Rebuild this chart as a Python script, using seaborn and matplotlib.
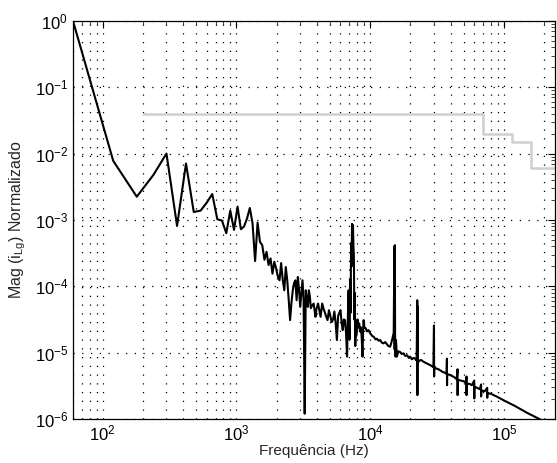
import numpy as np
import pandas as pd
import seaborn as sns
import matplotlib.pyplot as plt
from matplotlib.ticker import LogLocator, NullFormatter

# spectrum of i_Lg (frequency in Hz, log10 of magnitude)
freq_hz = [60, 120, 180, 240, 300, 360, 420, 480, 540, 600, 660, 720, 780, 840, 900,
           960, 1020, 1080, 1140, 1200, 1260, 1320, 1380, 1440, 1500, 1560, 1620, 1680,
           1740, 1800, 1860, 1920, 1980, 2040, 2100, 2160, 2220, 2280, 2340, 2400, 2460,
           2520, 2580, 2640, 2700, 2760, 2820, 2880, 2940, 3000, 3060, 3120, 3180, 3240,
           3300, 3360, 3420, 3480, 3540, 3600, 3660, 3780, 3900, 3960, 4080, 4200, 4260,
           4380, 4500, 4560, 4680, 4800, 4920, 5040, 5160, 5280, 5400, 5520, 5640, 5760,
           5880, 6000, 6120, 6240, 6360, 6480, 6600, 6720, 6840, 6900, 6960, 7020, 7080,
           7140, 7200, 7260, 7320, 7380, 7440, 7500, 7560, 7620, 7680, 7740, 7800, 7860,
           7920, 8040, 8160, 8280, 8400, 8520, 8640, 8760, 8880, 8940, 9060, 9240, 9480,
           9720, 10020, 10380, 10620, 10980, 11220, 11580, 11880, 12240, 12600, 12960,
           13320, 13680, 14100, 14400, 14700, 15000, 15180, 15240, 15300, 15360, 15480,
           15600, 15840, 16200, 16740, 17220, 17760, 18300, 18900, 19500, 19920, 20520,
           21120, 21720, 22260, 22500, 22560, 22620, 22740, 23400, 24000, 25200, 26400,
           27600, 28800, 29700, 30000, 30060, 30180, 31200, 32400, 33600, 34800, 36000,
           37200, 37500, 37560, 37680, 39000, 40800, 42600, 44400, 45000, 45060, 45180,
           47400, 49800, 52200, 52500, 52560, 52680, 55200, 57600, 60000, 60060, 60180,
           63000, 66000, 67500, 67560, 67680, 72000, 75000, 75060, 75180, 80000, 90000,
           100000, 120000, 150000, 180000, 210000, 240000]
mag_log = [0.0, -2.11, -2.65, -2.32, -2.00, -3.09, -2.15, -2.88, -2.86, -2.74, -2.61, -2.99,
           -3.01, -3.20, -2.86, -3.15, -2.80, -3.14, -3.10, -2.98, -2.82, -3.05, -3.62, -3.04,
           -3.33, -3.38, -3.60, -3.48, -3.68, -3.58, -3.81, -3.63, -3.73, -3.85, -3.91, -3.65,
           -3.90, -4.06, -3.71, -3.91, -4.20, -4.51, -4.25, -4.06, -3.95, -3.91, -4.21, -3.86,
           -4.05, -4.31, -4.10, -3.91, -4.20, -5.92, -4.06, -4.20, -4.31, -4.06, -4.15, -4.33,
           -4.30, -4.26, -4.46, -4.35, -4.26, -4.40, -4.46, -4.26, -4.35, -4.38, -4.45, -4.51,
           -4.36, -4.45, -4.54, -4.50, -4.38, -4.55, -4.81, -4.45, -4.40, -4.36, -4.55, -4.66,
           -4.50, -4.51, -4.70, -5.06, -4.30, -4.06, -4.60, -4.80, -3.90, -4.40, -3.35, -3.70,
           -3.06, -3.60, -3.08, -3.40, -3.55, -4.50, -4.10, -4.90, -4.60, -4.75, -4.71, -4.50,
           -4.62, -4.56, -4.68, -4.62, -4.76, -5.06, -4.60, -4.51, -4.62, -4.63, -4.68, -4.66,
           -4.71, -4.75, -4.76, -4.80, -4.79, -4.82, -4.81, -4.85, -4.86, -4.84, -4.87, -4.90,
           -4.91, -4.85, -4.78, -4.70, -3.40, -4.95, -3.38, -4.80, -5.06, -4.81, -5.06, -4.98,
           -4.99, -5.02, -5.01, -5.05, -5.04, -5.08, -5.06, -5.10, -5.08, -5.09, -5.12, -4.21,
           -5.64, -4.30, -5.15, -5.12, -5.11, -5.14, -5.16, -5.18, -5.20, -5.22, -4.59, -5.36,
           -5.21, -5.24, -5.25, -5.27, -5.29, -5.30, -5.32, -5.09, -5.49, -5.33, -5.33, -5.35,
           -5.37, -5.40, -5.25, -5.64, -5.41, -5.42, -5.43, -5.45, -5.36, -5.64, -5.47, -5.47,
           -5.49, -5.42, -5.69, -5.51, -5.53, -5.55, -5.48, -5.66, -5.57, -5.58, -5.53, -5.68,
           -5.61, -5.62, -5.67, -5.72, -5.80, -5.91, -5.99, -6.06, -6.12]

# harmonic limit (step curve)
limit_freq = [200, 70000, 114000, 160000, 240000]
limit_mag = [0.04, 0.02, 0.015, 0.006, 0.006]

x_ticks = [1e2, 1e3, 1e4, 1e5]
y_ticks = [1e-6, 1e-5, 1e-4, 1e-3, 1e-2, 1e-1, 1e0]

spec = pd.DataFrame({"f": freq_hz, "mag": 10.0 ** np.array(mag_log)})
lim = pd.DataFrame({"f": limit_freq, "mag": limit_mag})

sns.set_theme(style="white", rc={
    "xtick.direction": "in", "ytick.direction": "in",
    "xtick.top": True, "ytick.right": True,
    "xtick.minor.visible": True, "ytick.minor.visible": True,
    "axes.edgecolor": "black", "axes.linewidth": 0.9,
    "mathtext.fontset": "custom", "mathtext.rm": "Liberation Sans",
})
plt.rcParams["font.family"] = ["Liberation Sans", "DejaVu Sans"]
plt.rcParams["font.size"] = 11

fig, ax = plt.subplots(figsize=(5.57, 4.63), dpi=100)
fig.subplots_adjust(left=0.131, right=0.996, bottom=0.095, top=0.955)

sns.lineplot(data=lim, x="f", y="mag", ax=ax, color="#cfcfcf", linewidth=1.8,
             drawstyle="steps-post", estimator=None, sort=False)
sns.lineplot(data=spec, x="f", y="mag", ax=ax, color="black", linewidth=1.5,
             estimator=None, sort=False)

ax.set_xscale("log")
ax.set_yscale("log")
ax.set_xlim(60, 240000)
ax.set_ylim(1e-6, 1)

ax.set_xticks(x_ticks)
ax.set_yticks(y_ticks)
ax.xaxis.set_minor_locator(LogLocator(base=10, subs=np.arange(2, 10), numticks=12))
ax.yaxis.set_minor_locator(LogLocator(base=10, subs=np.arange(2, 10), numticks=12))
ax.xaxis.set_minor_formatter(NullFormatter())
ax.yaxis.set_minor_formatter(NullFormatter())

dots = (0, (1, 6))
ax.grid(True, which="major", axis="both", linestyle=dots, color="black", linewidth=0.9)
ax.grid(True, which="minor", axis="x", linestyle=dots, color="black", linewidth=0.9)
ax.tick_params(which="major", length=5, width=0.8, colors="black", labelsize=12)
ax.tick_params(which="minor", length=3, width=0.6)

ax.set_xlabel("Frequência (Hz)", fontsize=11, labelpad=0)
ax.set_ylabel("Mag (i$_{\\mathregular{Lg}}$) Normalizado", fontsize=11.5, labelpad=5)

fig.savefig("out.png", dpi=100)
plt.close("all")
